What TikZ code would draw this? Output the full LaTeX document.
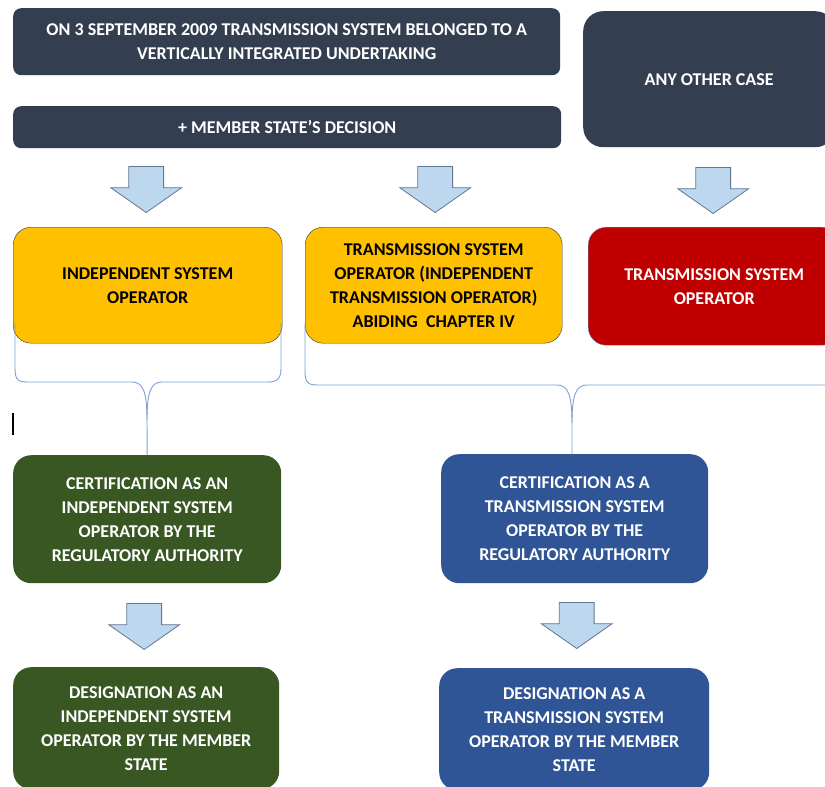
\documentclass[tikz,border=0pt]{standalone}
\usepackage{fontspec}
\setmainfont{Carlito}
\usetikzlibrary{shapes.arrows}
\definecolor{slate}{RGB}{51,63,80}
\definecolor{amber}{RGB}{255,192,0}
\definecolor{crimson}{RGB}{192,0,0}
\definecolor{forest}{RGB}{56,87,35}
\definecolor{navy}{RGB}{47,85,151}
\definecolor{pale}{RGB}{189,215,238}
\definecolor{arrowline}{RGB}{100,118,145}
\definecolor{bracecol}{RGB}{125,160,218}
\tikzstyle{box} = [rectangle, rounded corners=18pt, anchor=north west, align=center, inner sep=0pt, font=\bfseries\fontsize{18}{24}\selectfont]
\tikzstyle{dark} = [box, fill=slate, text=white]
\tikzstyle{isobox} = [box, fill=amber, draw=black!80, text=black]
\tikzstyle{tsobox} = [box, fill=crimson, draw=navy!70, text=white]
\tikzstyle{greenbox} = [box, fill=forest, text=white]
\tikzstyle{bluebox} = [box, fill=navy, text=white]
\tikzstyle{downarr} = [single arrow, rotate=-90, anchor=tip, fill=pale, draw=arrowline, line width=.8pt, minimum height=46pt, minimum width=70pt, single arrow head extend=18pt, single arrow tip angle=110, inner xsep=0pt, inner ysep=17pt]
\tikzstyle{brace} = [draw=bracecol, line width=.9pt]

\begin{document}
\begin{tikzpicture}[x=1pt,y=-1pt]
	\clip (0,0) rectangle (825,787);
	\fill[white] (0,0) rectangle (825,787);
	% top row
	\node [dark, rounded corners=8pt, minimum width=547pt, minimum height=67pt] (vi) at (13,8) {ON 3 SEPTEMBER 2009 TRANSMISSION SYSTEM BELONGED TO A\\VERTICALLY INTEGRATED UNDERTAKING};
	\node [dark, rounded corners=8pt, minimum width=548pt, minimum height=42pt] (ms) at (13,106) {+ MEMBER STATE'S DECISION};
	\node [dark, rounded corners=20pt, minimum width=252pt, minimum height=136pt] (other) at (583,11) {ANY OTHER CASE};
	% operators
	\node [isobox, minimum width=269pt, minimum height=116pt] (iso) at (13,227) {INDEPENDENT SYSTEM\\OPERATOR};
	\node [isobox, minimum width=257pt, minimum height=116pt] (ito) at (305,227) {TRANSMISSION SYSTEM\\OPERATOR (INDEPENDENT\\TRANSMISSION OPERATOR)\\ABIDING~ CHAPTER IV};
	\node [tsobox, minimum width=252pt, minimum height=118pt] (tso) at (588,227) {TRANSMISSION SYSTEM\\OPERATOR};
	% certification
	\node [greenbox, minimum width=268pt, minimum height=128pt] (certiso) at (13,455) {CERTIFICATION AS AN\\INDEPENDENT SYSTEM\\OPERATOR BY THE\\REGULATORY AUTHORITY};
	\node [bluebox, minimum width=267pt, minimum height=129pt] (certtso) at (441,454) {CERTIFICATION AS A\\TRANSMISSION SYSTEM\\OPERATOR BY THE\\REGULATORY AUTHORITY};
	% designation
	\node [greenbox, minimum width=266pt, minimum height=122pt] (desiso) at (13,667) {DESIGNATION AS AN\\INDEPENDENT SYSTEM\\OPERATOR BY THE MEMBER\\STATE};
	\node [bluebox, minimum width=270pt, minimum height=122pt] (destso) at (439,668) {DESIGNATION AS A\\TRANSMISSION SYSTEM\\OPERATOR BY THE MEMBER\\STATE};
	% block arrows
	\node [downarr] (a1) at ([xshift=-1.5pt,yshift=14pt]iso.north) {};
	\node [downarr] (a2) at ([xshift=1.5pt,yshift=14pt]ito.north) {};
	\node [downarr] (a3) at ([xshift=-1pt,yshift=13pt]tso.north) {};
	\node [downarr] (a4) at ([xshift=-2pt,yshift=17pt]desiso.north) {};
	\node [downarr] (a5) at ([xshift=2.5pt,yshift=19pt]destso.north) {};
	% braces
	\draw [brace] (15,323) -- (15,368) .. controls (15,380) and (18,382) .. (28,382) -- (132,382) .. controls (143,382) and (147,392) .. (147,420) -- (certiso.north);
	\draw [brace] (147,420) .. controls (147,392) and (151,382) .. (162,382) -- (268,382) .. controls (278,382) and (281,378) .. (281,368) -- (281,323);
	\draw [brace] (305,323) -- (305,371) .. controls (305,383) and (308,385) .. (318,385) -- (557,385) .. controls (568,385) and (572,395) .. (572,423) -- (572,454);
	\draw [brace] (572,423) .. controls (572,395) and (576,385) .. (587,385) -- (860,385);
	\draw [black, line width=1.2pt] (13,413) -- (13,435);
\end{tikzpicture}
\end{document}
